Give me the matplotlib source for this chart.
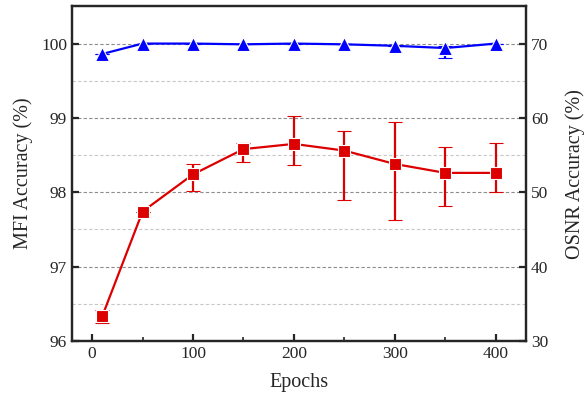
import matplotlib
matplotlib.use("Agg")
import matplotlib.pyplot as plt
from matplotlib.ticker import MultipleLocator

plt.rcParams['font.family'] = ['Liberation Serif', 'DejaVu Serif']
plt.rcParams['mathtext.fontset'] = 'stix'

# values
epochs = [10, 50, 100, 150, 200, 250, 300, 350, 400]

mfi_acc = [99.86, 100.0, 100.0, 99.99, 100.0, 99.99, 99.97, 99.94, 100.0]
mfi_err_lo = [0.0, 0.0, 0.0, 0.0, 0.0, 0.0, 0.0, 0.14, 0.0]
mfi_err_hi = [0.0, 0.0, 0.0, 0.0, 0.0, 0.0, 0.0, 0.03, 0.0]

osnr_acc = [33.3, 47.4, 52.4, 55.8, 56.5, 55.6, 53.8, 52.6, 52.6]
osnr_err_lo = [0.9, 0.0, 2.3, 1.7, 2.9, 6.6, 7.6, 4.4, 2.6]
osnr_err_hi = [0.8, 0.0, 1.4, 0.8, 3.8, 2.7, 5.7, 3.5, 4.0]

txt = '#262626'
fig = plt.figure(figsize=(5.85, 4.01), dpi=100)
ax = fig.add_axes([0.123, 0.150, 0.776, 0.834])
ax2 = ax.twinx()

ax.errorbar(epochs, mfi_acc, yerr=[mfi_err_lo, mfi_err_hi], color='#0000ff', lw=1.6,
            marker='^', ms=10, mec='white', mew=0.8, mfc='#0000ff',
            ecolor='#0000ff', elinewidth=1.6, capsize=5, capthick=1.6, zorder=3)
ax2.errorbar(epochs, osnr_acc, yerr=[osnr_err_lo, osnr_err_hi], color='#dd0000', lw=1.6,
             marker='s', ms=8, mec='white', mew=0.8, mfc='#dd0000',
             ecolor='#dd0000', elinewidth=1.6, capsize=5, capthick=1.6, zorder=3)

ax.set_xlim(-20, 430)
ax.set_ylim(96, 100.5)
ax2.set_ylim(30, 75)

ax.xaxis.set_major_locator(MultipleLocator(100))
ax.xaxis.set_minor_locator(MultipleLocator(50))
ax.yaxis.set_major_locator(MultipleLocator(1))
ax.yaxis.set_minor_locator(MultipleLocator(0.5))
ax2.yaxis.set_major_locator(MultipleLocator(10))
ax2.yaxis.set_minor_locator(MultipleLocator(5))

ax.grid(axis='y', which='major', color='#8c8c8c', ls=(0, (3, 2)), lw=0.8)
ax.grid(axis='y', which='minor', color='#c8c8c8', ls=(0, (3, 2)), lw=0.8)
ax.set_axisbelow(True)

for a in (ax, ax2):
    for s in a.spines.values():
        s.set_linewidth(1.6)
        s.set_color(txt)
    a.tick_params(which='major', direction='in', length=5, width=1.6,
                  labelsize=12.5, colors=txt)
    a.tick_params(which='minor', direction='in', length=3, width=1.2, colors=txt)
ax.tick_params(axis='y', which='both', right=False)
ax.tick_params(axis='x', which='both', top=False)
ax.tick_params(axis='y', which='minor', length=0)
ax2.tick_params(axis='y', which='minor', length=0)

ax.set_xlabel('Epochs', fontsize=14.5, color=txt, labelpad=8)
ax.set_ylabel('MFI Accuracy (%)', fontsize=14.5, color=txt, labelpad=6)
ax2.set_ylabel('OSNR Accuracy (%)', fontsize=14.5, color=txt, labelpad=12)

fig.savefig('out.png', dpi=100)
